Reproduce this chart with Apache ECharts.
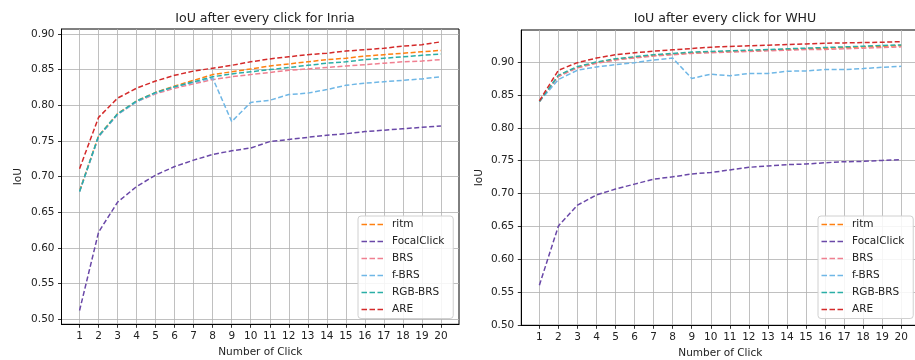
<!DOCTYPE html>
<html>
<head>
<meta charset="utf-8">
<script src="https://cdn.jsdelivr.net/npm/echarts@6/dist/echarts.min.js"></script>
<style>
html,body{margin:0;padding:0;background:#fff;}
#c{width:915px;height:360px;}
</style>
</head>
<body>
<div id="c"></div>
<script>
// ---- data ----
const clicks = [1,2,3,4,5,6,7,8,9,10,11,12,13,14,15,16,17,18,19,20];
const seriesNames = ['ritm','FocalClick','BRS','f-BRS','RGB-BRS','ARE'];
const yTicksInria = [0.50,0.55,0.60,0.65,0.70,0.75,0.80,0.85,0.90];
const yTicksWHU = [0.50,0.55,0.60,0.65,0.70,0.75,0.80,0.85,0.90];

const inriaRitm = [0.680,0.757,0.788,0.806,0.818,0.827,0.835,0.843,0.847,0.851,0.855,0.858,0.861,0.864,0.866,0.869,0.871,0.873,0.875,0.877];
const inriaFocal = [0.512,0.622,0.664,0.686,0.702,0.714,0.723,0.731,0.736,0.740,0.749,0.752,0.755,0.758,0.760,0.763,0.765,0.767,0.769,0.771];
const inriaBRS = [0.679,0.756,0.787,0.805,0.816,0.824,0.830,0.836,0.840,0.843,0.846,0.849,0.851,0.853,0.855,0.857,0.859,0.861,0.862,0.864];
const inriaFBRS = [0.679,0.756,0.787,0.805,0.817,0.826,0.832,0.838,0.777,0.804,0.807,0.815,0.817,0.822,0.828,0.831,0.833,0.835,0.837,0.840];
const inriaRGB = [0.679,0.757,0.788,0.806,0.818,0.826,0.833,0.840,0.844,0.847,0.850,0.853,0.856,0.859,0.861,0.864,0.866,0.868,0.870,0.872];
const inriaARE = [0.711,0.783,0.810,0.824,0.834,0.842,0.848,0.852,0.856,0.861,0.865,0.868,0.871,0.873,0.876,0.878,0.880,0.883,0.885,0.889];

const whuRitm = [0.840,0.879,0.892,0.899,0.904,0.907,0.910,0.912,0.914,0.915,0.916,0.917,0.918,0.919,0.920,0.921,0.922,0.923,0.924,0.925];
const whuFocal = [0.561,0.651,0.6825,0.698,0.707,0.7145,0.722,0.7255,0.730,0.732,0.736,0.740,0.742,0.744,0.745,0.747,0.7485,0.749,0.7505,0.7515];
const whuBRS = [0.840,0.878,0.891,0.898,0.903,0.906,0.909,0.911,0.913,0.914,0.915,0.916,0.917,0.918,0.919,0.919,0.920,0.921,0.922,0.923];
const whuFBRS = [0.840,0.8735,0.8875,0.8925,0.896,0.899,0.903,0.906,0.875,0.8815,0.879,0.8825,0.8825,0.886,0.8865,0.8885,0.8885,0.890,0.892,0.8935];
const whuRGB = [0.840,0.880,0.893,0.900,0.905,0.908,0.911,0.913,0.915,0.916,0.917,0.918,0.919,0.920,0.921,0.922,0.923,0.924,0.925,0.926];
const whuARE = [0.841,0.8875,0.899,0.906,0.911,0.914,0.9165,0.9185,0.9205,0.9225,0.9235,0.9245,0.9255,0.9265,0.9275,0.9285,0.929,0.9295,0.930,0.931];

const colors = ['#ff8010','#6a48a8','#f07f90','#6fb7e6','#2aaea6','#d42a2a'];
const inriaData = [inriaRitm,inriaFocal,inriaBRS,inriaFBRS,inriaRGB,inriaARE];
const whuData = [whuRitm,whuFocal,whuBRS,whuFBRS,whuRGB,whuARE];

// ---- chart ----
const FONT = 'DejaVu Sans';
const txt = '#222';
const dashIcon = 'path://M0,0h5.5v1.5h-5.5z M8,0h5.5v1.5h-5.5z M16,0h5.5v1.5h-5.5z';
function xAxisCfg(gi){
  return {
    type:'value', gridIndex:gi, min:0.05, max:20.95,
    name:'Number of Click', nameLocation:'middle', nameGap:21,
    nameTextStyle:{fontFamily:FONT,fontSize:10.5,color:txt},
    axisLine:{show:true,onZero:false,lineStyle:{color:'#000',width:1}},
    axisTick:{show:true,inside:false,length:3.5,customValues:clicks,lineStyle:{color:'#000',width:0.8}},
    axisLabel:{show:true,margin:6.5,customValues:clicks,fontFamily:FONT,fontSize:10.5,color:txt,formatter:v=>String(Math.round(v))},
    splitLine:{show:true,lineStyle:{color:'#b0b0b0',width:0.8}}
  };
}
function yAxisCfg(gi,min,max,ticks,gap){
  return {
    type:'value', gridIndex:gi, min:min, max:max,
    name:'IoU', nameLocation:'middle', nameGap:gap,
    nameTextStyle:{fontFamily:FONT,fontSize:10.5,color:txt},
    axisLine:{show:true,onZero:false,lineStyle:{color:'#000',width:1}},
    axisTick:{show:true,inside:false,length:3.5,customValues:ticks,lineStyle:{color:'#000',width:0.8}},
    axisLabel:{show:true,margin:7,customValues:ticks,fontFamily:FONT,fontSize:10.5,color:txt,formatter:v=>v.toFixed(2)},
    splitLine:{show:true,lineStyle:{color:'#b0b0b0',width:0.8}}
  };
}
function legendCfg(left,top){
  return {
    orient:'vertical', left:left, top:top,
    data:seriesNames.map(n=>({name:n,icon:dashIcon})),
    itemWidth:21.5, itemHeight:1.5, itemGap:5,
    padding:[2.5,9,3,3.5],
    backgroundColor:'rgba(255,255,255,0.85)',
    borderColor:'#d0d0d0', borderWidth:1, borderRadius:3,
    textStyle:{fontFamily:FONT,fontSize:10.5,color:txt,lineHeight:12,padding:[0,0,0,4]},
    selectedMode:false
  };
}
const series = [];
[inriaData,whuData].forEach((set,gi)=>{
  set.forEach((vals,si)=>{
    series.push({
      type:'line', name:seriesNames[si], xAxisIndex:gi, yAxisIndex:gi,
      data: clicks.map((c,i)=>[c,vals[i]]),
      showSymbol:false, symbol:'none', animation:false,
      color:colors[si],
      itemStyle:{color:colors[si]},
      lineStyle:{color:colors[si],width:1.5,type:[5,2.5]},
      z:2+si
    });
  });
});

const chart = echarts.init(document.getElementById('c'),null,{renderer:'canvas'});
chart.setOption({
  backgroundColor:'#fff',
  animation:false,
  title:[
    {text:'IoU after every click for Inria',left:260,top:7,textAlign:'center',textStyle:{fontFamily:FONT,fontSize:12.6,fontWeight:'normal',color:txt}},
    {text:'IoU after every click for WHU',left:720,top:7,textAlign:'center',textStyle:{fontFamily:FONT,fontSize:12.6,fontWeight:'normal',color:txt}}
  ],
  grid:[
    {left:61.5,top:29,width:397.5,height:295.3,show:true,borderColor:'#000',borderWidth:1,backgroundColor:'transparent',containLabel:false,outerBoundsMode:'none'},
    {left:521.3,top:30,width:398,height:295.3,show:true,borderColor:'#000',borderWidth:1,backgroundColor:'transparent',containLabel:false,outerBoundsMode:'none'}
  ],
  xAxis:[xAxisCfg(0),xAxisCfg(1)],
  yAxis:[yAxisCfg(0,0.4926,0.907,yTicksInria,38),yAxisCfg(1,0.5,0.9486,yTicksWHU,37)],
  legend:[legendCfg(358,216),legendCfg(818,216)],
  series:series
});
</script>
</body>
</html>
